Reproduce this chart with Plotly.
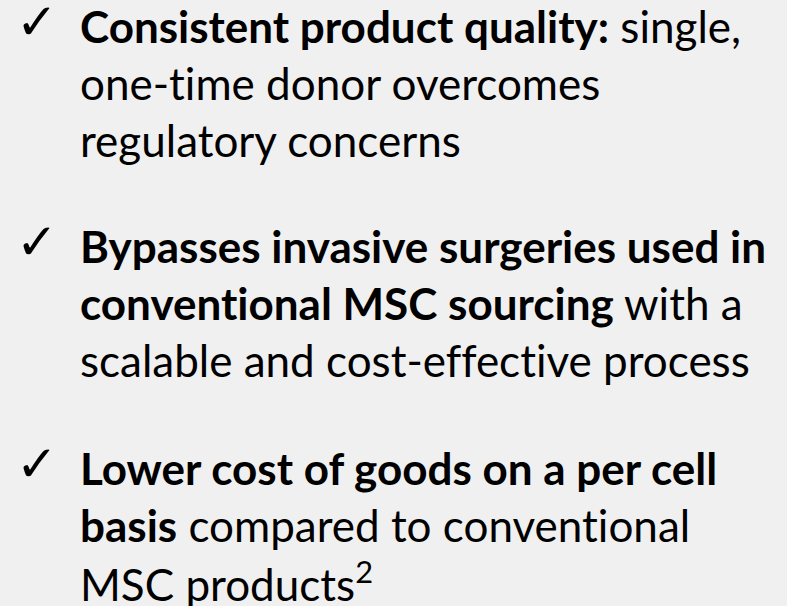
import plotly.graph_objects as go

W, H = 787, 606

block1 = ["<b>Consistent product quality:</b> single,",
          "one-time donor overcomes",
          "regulatory concerns"]
block2 = ["<b>Bypasses invasive surgeries used in</b>",
          "<b>conventional MSC sourcing</b> with a",
          "scalable and cost-effective process"]
block3 = ["<b>Lower cost of goods on a per cell</b>",
          "<b>basis</b> compared to conventional",
          "MSC products<sup>2</sup>"]
blocks = [block1, block2, block3]

# layout (pixel) positions
first_baselines = [43, 263, 485]
LINE_PITCH = 57
TEXT_X = 78
CHECK_X = 37
CHECK_ABOVE_BASELINE = 21

FONT = "Lato, Carlito, Calibri, sans-serif"
SIZE = 44
MID_OFFSET = 0.387 * SIZE  # baseline minus box-center for Lato

fig = go.Figure()
ann = []
for blk, fb in zip(blocks, first_baselines):
    for i, txt in enumerate(blk):
        bl = fb + i * LINE_PITCH
        ann.append(dict(text=txt, x=TEXT_X / W, y=1 - (bl - MID_OFFSET) / H,
                        xref="paper", yref="paper",
                        xanchor="left", yanchor="middle",
                        showarrow=False, align="left",
                        font=dict(family=FONT, size=SIZE, color="#000000")))
    ann.append(dict(text="✓", x=CHECK_X / W, y=1 - (fb - CHECK_ABOVE_BASELINE) / H,
                    xref="paper", yref="paper",
                    xanchor="center", yanchor="middle", showarrow=False,
                    font=dict(family="DejaVu Sans", size=50, color="#000000")))

fig.update_layout(width=W, height=H, margin=dict(l=0, r=0, t=0, b=0),
                  paper_bgcolor="#f0f0f0", plot_bgcolor="#f0f0f0",
                  xaxis=dict(visible=False), yaxis=dict(visible=False),
                  annotations=ann, showlegend=False)

css = ("var s=document.createElement('style');"
       "s.textContent='html,body{margin:0;padding:0;overflow:hidden;background:#f0f0f0}"
       " text{font-variant-ligatures:none;font-feature-settings:\"liga\" 0, \"dlig\" 0}';"
       "document.head.appendChild(s);")
fig.write_html("out.html", post_script=css, config={"displayModeBar": False})
